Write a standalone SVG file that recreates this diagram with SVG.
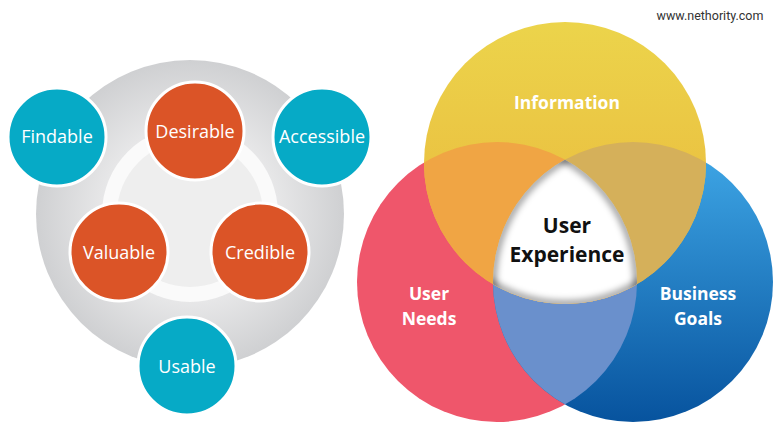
<svg xmlns="http://www.w3.org/2000/svg" width="778" height="448" viewBox="0 0 778 448">
<style>
.lbl{font-family:"Open Sans","Noto Sans",sans-serif;fill:#fff;text-anchor:middle}
.sm{font-size:18px}
.bd{font-weight:bold;font-size:17.5px}
.orange{fill:#db5427;stroke:#fff;stroke-width:3}
.teal{fill:#06aac6;stroke:#fff;stroke-width:3}
.ux{font-family:"Open Sans","Noto Sans",sans-serif;font-weight:bold;font-size:21px;fill:#111;text-anchor:middle}
</style>
<defs>
<radialGradient id="ringG" cx="190" cy="214" r="154" gradientUnits="userSpaceOnUse">
<stop offset="0.55" stop-color="#e8e8e9"/>
<stop offset="1" stop-color="#cfd0d2"/>
</radialGradient>
<linearGradient id="yelG" x1="0" y1="0" x2="0" y2="1">
<stop offset="0" stop-color="#ecd44b"/>
<stop offset="1" stop-color="#e9b43a"/>
</linearGradient>
<linearGradient id="bluG" x1="0" y1="0" x2="0" y2="1">
<stop offset="0" stop-color="#40a9e8"/>
<stop offset="1" stop-color="#07539e"/>
</linearGradient>
<clipPath id="cR"><circle cx="497" cy="282" r="140"/></clipPath>
<clipPath id="cB"><circle cx="633" cy="282" r="140"/></clipPath>
<clipPath id="cY"><circle cx="565" cy="163" r="141"/></clipPath>
<filter id="blur" x="-20%" y="-20%" width="140%" height="140%"><feGaussianBlur stdDeviation="3"/></filter>
</defs>
<rect width="778" height="448" fill="#fff"/>
<text x="710" y="20" font-family="Roboto,'Liberation Sans',sans-serif" font-size="12.5" fill="#333" text-anchor="middle">www.nethority.com</text>

<g id="left-base">
<circle cx="190" cy="214" r="154" fill="url(#ringG)"/>
<circle cx="190" cy="214" r="88" fill="#fafafa"/>
<circle cx="190" cy="214" r="73" fill="#eeeeee"/>
</g>

<g id="findable"><circle class="teal" cx="57" cy="137" r="49"/><text class="lbl sm" x="57" y="143">Findable</text></g>
<g id="accessible"><circle class="teal" cx="322" cy="137" r="49"/><text class="lbl sm" x="322" y="143">Accessible</text></g>
<g id="usable"><circle class="teal" cx="187" cy="366" r="49"/><text class="lbl sm" x="187" y="373">Usable</text></g>
<g id="desirable"><circle class="orange" cx="195" cy="131" r="49"/><text class="lbl sm" x="195" y="138">Desirable</text></g>
<g id="valuable"><circle class="orange" cx="119" cy="252" r="49"/><text class="lbl sm" x="119" y="259">Valuable</text></g>
<g id="credible"><circle class="orange" cx="260" cy="252" r="49"/><text class="lbl sm" x="260" y="259">Credible</text></g>

<g id="user-needs">
<circle cx="497" cy="282" r="140" fill="#ef566b"/>
</g>
<g id="business-goals">
<circle cx="633" cy="282" r="140" fill="url(#bluG)"/>
<g clip-path="url(#cR)"><circle cx="633" cy="282" r="140" fill="#6a90cc"/></g>
</g>
<g id="information">
<circle cx="565" cy="163" r="141" fill="url(#yelG)"/>
<g clip-path="url(#cR)"><circle cx="565" cy="163" r="141" fill="#f0a544"/></g>
<g clip-path="url(#cB)"><circle cx="565" cy="163" r="141" fill="#d5b05a"/></g>
</g>
<g id="user-experience">
<g clip-path="url(#cR)"><g clip-path="url(#cB)"><g clip-path="url(#cY)">
<rect x="400" y="100" width="330" height="260" fill="#fff"/>
<g fill="none" stroke="#000" stroke-opacity="0.35" stroke-width="8" filter="url(#blur)">
<circle cx="497" cy="282" r="140"/><circle cx="633" cy="282" r="140"/><circle cx="565" cy="163" r="141"/>
</g>
</g></g></g>
<text class="ux" x="567" y="233">User</text>
<text class="ux" x="567" y="262">Experience</text>
</g>
<g id="labels">
<text class="lbl bd" x="567" y="109">Information</text>
<text class="lbl bd" x="429" y="300">User</text>
<text class="lbl bd" x="429" y="325">Needs</text>
<text class="lbl bd" x="698" y="300">Business</text>
<text class="lbl bd" x="698" y="325">Goals</text>
</g>
<g id="connectors"/>
</svg>
